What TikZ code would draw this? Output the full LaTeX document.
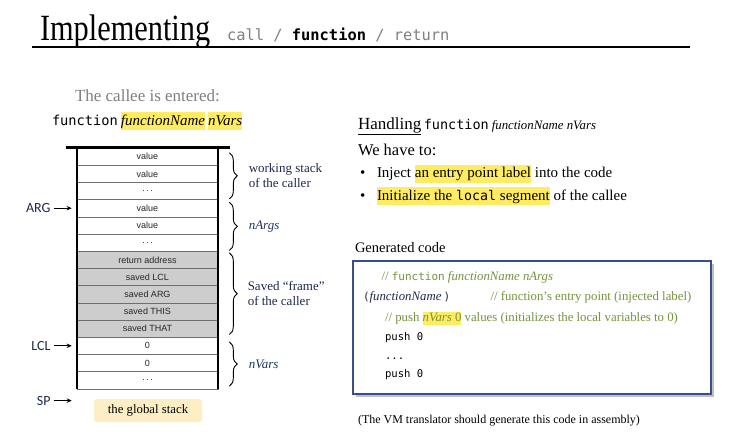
\documentclass[tikz,border=0pt]{standalone}
\usepackage{fontspec}
\setmainfont{Liberation Serif}
\newfontfamily\codefont{DejaVu Sans Mono}
\newfontfamily\cellfont{Liberation Sans}
\newfontfamily\ptrfont{Carlito}
\usetikzlibrary{arrows.meta,decorations.pathreplacing,shadows}

\definecolor{hlyellow}{RGB}{255,236,98}
\definecolor{navytext}{RGB}{30,42,78}
\definecolor{labelblue}{RGB}{32,52,100}
\definecolor{commentgreen}{RGB}{118,146,60}
\definecolor{boxborder}{RGB}{58,78,140}
\definecolor{cream}{RGB}{253,238,198}
\definecolor{softgray}{RGB}{128,128,128}
\definecolor{savedgray}{RGB}{205,205,205}
\definecolor{cellline}{RGB}{110,110,110}

\newcommand{\hlbox}[1]{{\setlength{\fboxsep}{0pt}\colorbox{hlyellow}{\strut #1}}}

\tikzset{
  txt/.style={anchor=base west, inner sep=0pt, outer sep=0pt},
  cell/.style={draw=cellline, line width=0.6pt, minimum width=141pt, minimum height=17.2pt,
    inner sep=0pt, font=\cellfont\fontsize{9}{10}\selectfont, text=black!85},
  ptr/.style={anchor=east, inner sep=0pt, font=\ptrfont\fontsize{14}{16}\selectfont, text=navytext},
  ptrarrow/.style={-{Stealth[length=5pt,width=4.5pt]}, line width=1pt, shorten >=5pt, shorten <=3pt},
  stackbrace/.style={decorate, decoration={brace, amplitude=8pt}, line width=0.9pt},
  bracelabel/.style={anchor=west, inner sep=0pt, align=left, text=navytext,
    font=\fontsize{13}{14.5}\selectfont},
  countlabel/.style={anchor=west, inner sep=0pt, text=labelblue,
    font=\fontsize{13}{14.5}\selectfont\itshape},
}

\begin{document}
\begin{tikzpicture}[x=1pt, y=-1pt]
\useasboundingbox (0,0) rectangle (736,447);
\fill[white] (0,0) rectangle (736,447);

% heading
\node[txt] (title) at (40,40) {\scalebox{0.82}[1]{\fontsize{37}{40}\selectfont Implementing}};
\node[txt] (subtitle) at (227,40) {\codefont\fontsize{15.4}{18}\selectfont
  \textcolor{softgray}{call /} \textbf{function} \textcolor{softgray}{/ return}};
\draw[line width=1.6pt] (32,47) -- (690,47);

% left column: the callee entry
\node[txt, text=softgray, font=\fontsize{17}{20}\selectfont] (entered) at (75,101.7) {The callee is entered:};
\node[txt, font=\fontsize{15}{18}\selectfont] (cmd) at (52,125)
  {{\codefont\fontsize{13.7}{16}\selectfont function}\hspace{3pt}\hlbox{\itshape functionName}\hspace{3pt}\hlbox{\itshape nVars}};

% the global stack
\foreach \i/\txt/\fl in {1/value/white, 2/value/white, 3/{.\,.\,.}/white,
    4/value/white, 5/value/white, 6/{.\,.\,.}/white,
    7/return address/savedgray, 8/saved LCL/savedgray, 9/saved ARG/savedgray,
    10/saved THIS/savedgray, 11/saved THAT/savedgray,
    12/0/white, 13/0/white, 14/{.\,.\,.}/white}
  \node[cell, fill=\fl] (r\i) at (147.5, {148+17.2*(\i-0.5)}) {\txt};

\draw[line width=2pt] (r1.north west) -- (r14.south west);
\draw[line width=2pt] (r1.north east) -- (r14.south east);
\draw[line width=2.6pt] ([xshift=-11pt]r1.north west) -- ([xshift=12pt]r1.north east);

% pointers
\node[ptr] (argl) at ([xshift=-26pt]r4.west) {ARG};
\draw[ptrarrow] (argl.east) -- (r4.west);
\node[ptr] (lcll) at ([xshift=-26pt]r12.west) {LCL};
\draw[ptrarrow] (lcll.east) -- (r12.west);
\coordinate (spend) at ([yshift=-11.5pt]r14.south west);
\node[ptr] (spl) at ([xshift=-26pt]spend) {SP};
\draw[ptrarrow] (spl.east) -- (spend);

% braces
\draw[stackbrace] ([xshift=11pt,yshift=-5pt]r1.north east) -- ([xshift=11pt,yshift=1pt]r3.south east)
  node[midway, xshift=19pt, bracelabel] (wslabel) {working stack\\of the caller};
\draw[stackbrace] ([xshift=11pt,yshift=-3pt]r4.north east) -- ([xshift=11pt,yshift=1pt]r6.south east)
  node[midway, xshift=19pt, countlabel] (nargslabel) {nArgs};
\draw[stackbrace] ([xshift=11pt,yshift=-2pt]r7.north east) -- ([xshift=11pt,yshift=3pt]r11.south east)
  node[midway, xshift=18pt, bracelabel] (framelabel) {Saved “frame”\\of the caller};
\draw[stackbrace] ([xshift=11pt,yshift=-5pt]r12.north east) -- ([xshift=11pt,yshift=3pt]r14.south east)
  node[midway, xshift=19pt, countlabel] (nvarslabel) {nVars};

\node[fill=cream, rounded corners=3pt, minimum width=108pt, minimum height=23pt, inner sep=0pt,
  font=\fontsize{12.8}{14}\selectfont] (gs) at (148,410.5) {the global stack};

% right column
\node[txt] (handling) at (358,129.5) {{\fontsize{17}{20}\selectfont\underline{Handling}}
  {\codefont\fontsize{13.5}{16}\selectfont function}\hspace{3pt}{\fontsize{12.8}{15}\selectfont\itshape functionName nVars}};
\node[txt, font=\fontsize{16.5}{19}\selectfont] (wehave) at (358,155) {We have to:};
\node[txt, font=\fontsize{15}{18}\selectfont] (bul1) at (360,177.3) {•};
\node[txt, font=\fontsize{15}{18}\selectfont] (item1) at (377,177.3)
  {Inject \hlbox{an entry point label} into the code};
\node[txt, font=\fontsize{15}{18}\selectfont] (bul2) at (360,200) {•};
\node[txt, font=\fontsize{15}{18}\selectfont] (item2) at (377,200)
  {\hlbox{Initialize the {\codefont\fontsize{13.3}{16}\selectfont local} segment} of the callee};

\node[txt, font=\fontsize{14.5}{17}\selectfont] (gencode) at (355,252) {Generated code};

\node[draw=boxborder, line width=1.3pt, fill=white, minimum width=358pt, minimum height=133pt,
  drop shadow={shadow xshift=2.5pt, shadow yshift=-2.5pt, fill=black!35, opacity=0.7}] (codebox) at (532,327.5) {};

\node[txt, text=commentgreen, font=\fontsize{12.8}{14}\selectfont] (c1) at (381.5,280.5)
  {// {\codefont\fontsize{11}{13}\selectfont function} \itshape functionName nArgs};
\node[txt, text=navytext, font=\fontsize{12.8}{14}\selectfont] (c2) at (363,300)
  {{\codefont\fontsize{11}{13}\selectfont(}\textit{functionName}\,{\codefont\fontsize{11}{13}\selectfont)}};
\node[txt, text=commentgreen, font=\fontsize{12.8}{14}\selectfont] (c2b) at (490.5,300)
  {// function’s entry point (injected label)};
\node[txt, text=commentgreen, font=\fontsize{12.8}{12.6}\selectfont] (c3) at (385,321)
  {// push \hlbox{\textit{nVars} 0} values (initializes the local variables to 0)};
\node[txt, font=\codefont\fontsize{10.6}{13}\selectfont] (c4) at (385,340.5) {push 0};
\node[txt, font=\codefont\fontsize{10.6}{13}\selectfont] (c5) at (385,359) {...};
\node[txt, font=\codefont\fontsize{10.6}{13}\selectfont] (c6) at (385,377.5) {push 0};

\node[txt, font=\fontsize{12}{14}\selectfont] (note) at (358,423.3)
  {(The VM translator should generate this code in assembly)};
\end{tikzpicture}
\end{document}
